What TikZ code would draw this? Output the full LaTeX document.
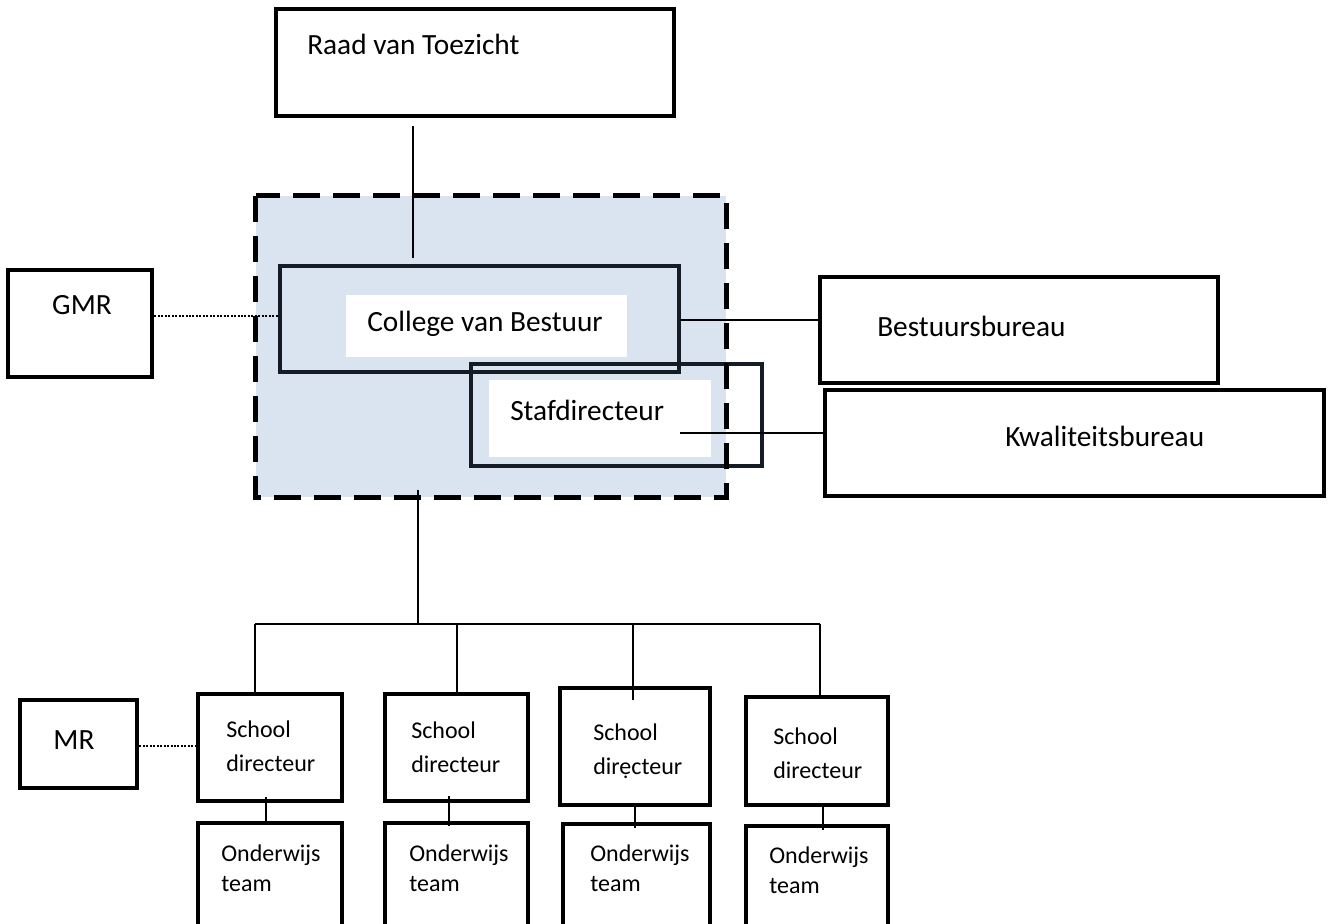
\documentclass[tikz,border=0pt]{standalone}
\usepackage{fontspec}
\setmainfont{Carlito}
\usetikzlibrary{fit}
\definecolor{panel}{HTML}{DAE3F0}
\definecolor{navy}{HTML}{151C26}
\begin{document}
\begin{tikzpicture}[x=0.75pt,y=-0.75pt,
  box/.style={draw=black, line width=3.5pt, inner sep=0pt},
  thinbox/.style={draw=black, line width=2.3pt, inner sep=0pt},
  navybox/.style={draw=navy, line width=3.3pt, inner sep=0pt},
  whitebox/.style={fill=white, draw=none, inner sep=0pt},
  big/.style={font=\fontsize{22}{25}\selectfont, inner sep=0pt},
  small/.style={font=\fontsize{18}{25.5}\selectfont, inner sep=0pt, align=left},
  smallt/.style={font=\fontsize{18}{22.5}\selectfont, inner sep=0pt, align=left},
  conn/.style={draw=black, line width=1.5pt},
  dotconn/.style={draw=black, line width=2.2pt, dash pattern=on 1.5pt off 1.1pt},
  dashframe/.style={draw=black, line width=3.8pt, dash pattern=on 20pt off 10pt},
]
\clip (0,0) rectangle (1328,924);
\fill[white] (0,0) rectangle (1328,924);

% panel
\node[fit={(256,196)(726,497)}, fill=panel, inner sep=0pt] (panel) {};

% Raad van Toezicht
\node[box, fit={(276,9)(674,116)}] (raad) {};
\node[big, anchor=west] (raadt) at (307,44) {Raad van Toezicht};

% GMR
\node[box, fit={(8,270)(152,377)}] (gmr) {};
\node[big] (gmrt) at (82,305) {GMR};

% College van Bestuur
\node[navybox, fit={(280,266)(679,372)}] (cvb) {};
\node[whitebox, fit={(346,295)(627,357)}] (cvbw) {};
\node[big, anchor=west] (cvbt) at (367,324) {College van Bestuur};

% Stafdirecteur
\node[navybox, fit={(471,364)(762,466)}] (staf) {};
\node[whitebox, fit={(489,380)(711,457)}] (stafw) {};
\node[big, anchor=west] (staft) at (510,410) {Stafdirecteur};

% Bestuursbureau / Kwaliteitsbureau
\node[box, fit={(820,277)(1218,383)}] (bestuur) {};
\node[big, anchor=west] (bestuurt) at (877,326) {Bestuursbureau};
\node[box, fit={(825,390)(1324,496)}] (kwal) {};
\node[big, anchor=west] (kwalt) at (1005,436) {Kwaliteitsbureau};

% connectors at top
\coordinate (rA) at (413,126);
\coordinate (rB) at (413,258);
\draw[conn] (rA) -- (rB);
\draw[dotconn] (gmr.east |- 0,316) -- (cvb.west |- 0,316);
\draw[conn] (cvb.east |- 0,320) -- (bestuur.west |- 0,320);
\coordinate (sK) at (680,433);
\draw[conn] (sK) -- (kwal.west |- sK);

% dashed frame on top
\draw[dashframe] (panel.north west) rectangle (panel.south east);

% bus
\coordinate (pB) at (418,490);
\coordinate (bM) at (418,624);
\coordinate (bL) at (255,624);
\coordinate (bR) at (820,624);
\draw[conn] (pB) -- (bM);
\draw[conn] (bL) -- (bR);

% MR
\node[box, fit={(20,700)(137,788)}] (mr) {};
\node[big] (mrt) at (74,740) {MR};

% School directeur boxes
\node[box, fit={(198,694)(342,801)}] (sd1) {};
\node[box, fit={(385,694)(528,801)}] (sd2) {};
\node[thinbox, fit={(560,688)(710,805)}] (sd3) {};
\node[box, fit={(746,697)(888,805)}] (sd4) {};
\node[small, anchor=west] (sd1t) at (226,746) {School\\directeur};
\node[small, anchor=west] (sd2t) at (411,747) {School\\directeur};
\node[small, anchor=west] (sd3t) at (593,751) {School\\dir\d{e}cteur};
\node[small, anchor=west] (sd4t) at (773,753) {School\\directeur};

% Onderwijs team boxes
\node[box, fit={(198,823)(342,960)}] (ot1) {};
\node[box, fit={(385,823)(528,960)}] (ot2) {};
\node[box, fit={(563,824)(710,960)}] (ot3) {};
\node[box, fit={(746,826)(888,960)}] (ot4) {};
\node[smallt, anchor=west] (ot1t) at (221,868) {Onderwijs\\team};
\node[smallt, anchor=west] (ot2t) at (409,868) {Onderwijs\\team};
\node[smallt, anchor=west] (ot3t) at (590,868) {Onderwijs\\team};
\node[smallt, anchor=west] (ot4t) at (769,870) {Onderwijs\\team};

% drops
\draw[conn] (bL) -- (bL |- sd1.north);
\draw[conn] (457,624) -- (457,694);
\draw[conn] (633,624) -- (633,700);
\draw[conn] (bR) -- (bR |- sd4.north);

% school -> team
\draw[conn] (266,797) -- (266,823);
\draw[conn] (449,796) -- (449,826);
\draw[conn] (635,803) -- (635,828);
\draw[conn] (823,804) -- (823,830);

% MR dotted
\draw[dotconn] (mr.east |- 0,746) -- (sd1.west |- 0,746);
\end{tikzpicture}
\end{document}
